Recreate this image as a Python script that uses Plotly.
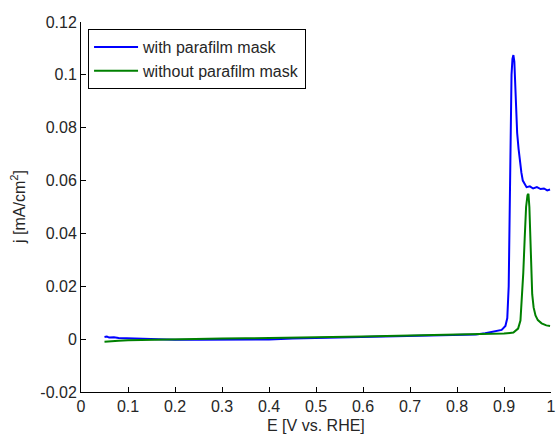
import plotly.graph_objects as go

# Potential (V vs. RHE) and current density (mA/cm^2)
e_with = [0.050, 0.055, 0.060, 0.070, 0.080, 0.100, 0.120, 0.150, 0.200, 0.250,
          0.300, 0.350, 0.400, 0.450, 0.500, 0.550, 0.600, 0.650, 0.700, 0.750,
          0.800, 0.840, 0.860, 0.880, 0.895, 0.903, 0.907, 0.910, 0.912, 0.914,
          0.916, 0.918, 0.920, 0.922, 0.924, 0.926, 0.928, 0.931, 0.934, 0.937,
          0.940, 0.944, 0.948, 0.955, 0.962, 0.970, 0.978, 0.985, 0.992, 0.998]
j_with = [0.0008, 0.0010, 0.0006, 0.0007, 0.0004, 0.0003, 0.0002, 0.0000, -0.0002, -0.0002,
          -0.0002, 0.0000, -0.0001, 0.0002, 0.0004, 0.0004, 0.0006, 0.0008, 0.0010, 0.0012,
          0.0015, 0.0018, 0.0022, 0.0028, 0.0035, 0.0050, 0.0080, 0.0200, 0.0500, 0.0850,
          0.1000, 0.1060, 0.1075, 0.1050, 0.0960, 0.0850, 0.0780, 0.0720, 0.0660, 0.0630,
          0.0600, 0.0585, 0.0575, 0.0578, 0.0570, 0.0575, 0.0568, 0.0570, 0.0563, 0.0566]

e_without = [0.050, 0.060, 0.080, 0.100, 0.150, 0.200, 0.250, 0.300, 0.350, 0.400,
             0.450, 0.500, 0.550, 0.600, 0.650, 0.700, 0.750, 0.800, 0.850, 0.900,
             0.920, 0.930, 0.935, 0.938, 0.941, 0.944, 0.947, 0.950, 0.952, 0.954,
             0.956, 0.958, 0.960, 0.963, 0.967, 0.972, 0.980, 0.990, 0.998]
j_without = [-0.0010, -0.0008, -0.0006, -0.0004, -0.0002, 0.0000, 0.0001, 0.0002, 0.0003, 0.0004,
             0.0006, 0.0008, 0.0009, 0.0010, 0.0012, 0.0014, 0.0016, 0.0017, 0.0018, 0.0021,
             0.0025, 0.0040, 0.0070, 0.0150, 0.0250, 0.0380, 0.0500, 0.0545, 0.0550, 0.0500,
             0.0380, 0.0250, 0.0170, 0.0120, 0.0090, 0.0072, 0.0060, 0.0052, 0.0050]

x_ticks = [0, 0.1, 0.2, 0.3, 0.4, 0.5, 0.6, 0.7, 0.8, 0.9, 1]
x_labels = ["0", "0.1", "0.2", "0.3", "0.4", "0.5", "0.6", "0.7", "0.8", "0.9", "1"]
y_ticks = [-0.02, 0, 0.02, 0.04, 0.06, 0.08, 0.1, 0.12]
y_labels = ["-0.02", "0", "0.02", "0.04", "0.06", "0.08", "0.1", "0.12"]

FONT = "Liberation Sans, Arial, sans-serif"
TXT = "#262626"

fig = go.Figure()
fig.add_trace(go.Scatter(x=e_with, y=j_with, mode="lines", name="with parafilm mask",
                         line=dict(color="#0000FF", width=2)))
fig.add_trace(go.Scatter(x=e_without, y=j_without, mode="lines", name="without parafilm mask",
                         line=dict(color="#008000", width=2)))

axis_common = dict(showgrid=False, zeroline=False, showline=True, linecolor="black",
                   linewidth=1, ticks="inside", ticklen=5, tickcolor="black",
                   tickfont=dict(family=FONT, size=16, color=TXT), mirror=False,
                   automargin=False)

fig.update_layout(
    width=558, height=439,
    margin=dict(l=81, r=7, t=22, b=47),
    paper_bgcolor="white", plot_bgcolor="white",
    font=dict(family=FONT, size=16, color=TXT),
    xaxis=dict(range=[0, 1], tickvals=x_ticks, ticktext=x_labels, **axis_common),
    yaxis=dict(range=[-0.02, 0.12], tickvals=y_ticks, ticktext=y_labels, **axis_common),
    legend=dict(x=0.015, y=0.981, xanchor="left", yanchor="top",
                bordercolor="black", borderwidth=1, bgcolor="white",
                font=dict(family=FONT, size=16, color=TXT),
                itemwidth=44, tracegroupgap=0),
    showlegend=True,
    annotations=[
        dict(text="E [V vs. RHE]", xref="paper", yref="paper", x=0.5, y=0,
             xanchor="center", yanchor="middle", yshift=-33, showarrow=False,
             font=dict(family=FONT, size=16, color=TXT)),
        dict(text="j [mA/cm<sup>2</sup>]", xref="paper", yref="paper", x=0, y=0.5,
             xanchor="center", yanchor="middle", xshift=-63, textangle=-90,
             showarrow=False, font=dict(family=FONT, size=16, color=TXT)),
    ],
)

fig.write_html("out.html")
